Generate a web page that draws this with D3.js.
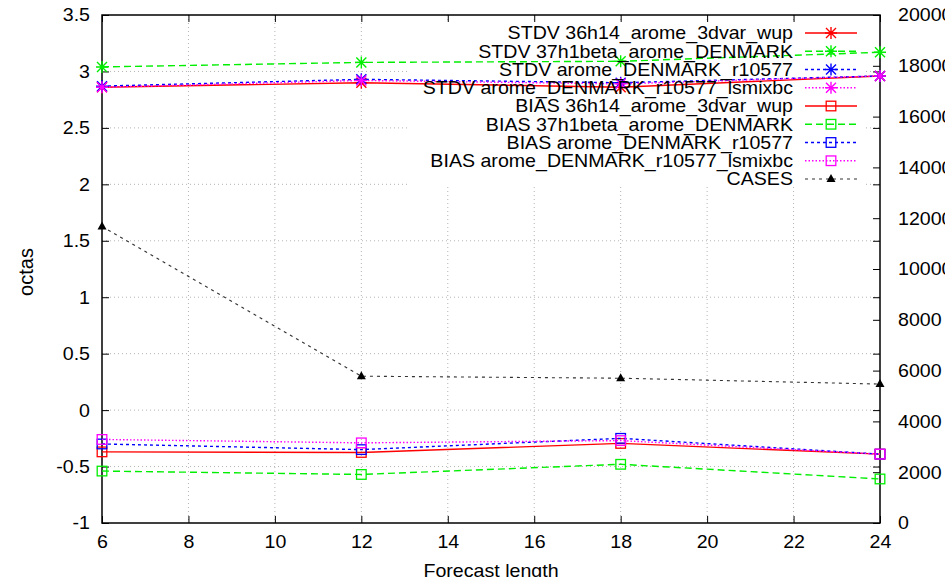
<!DOCTYPE html>
<html>
<head>
<meta charset="utf-8">
<script src="https://cdn.jsdelivr.net/npm/d3@7/dist/d3.min.js"></script>
<style>
  html, body { margin: 0; padding: 0; background: #fff; }
  svg { display: block; }
  text { font-family: "Liberation Sans", Arial, Helvetica, sans-serif; fill: #000; }
</style>
</head>
<body>
<svg id="chart" width="945" height="577"></svg>
<script>
// ---- data ----
const forecastLength = [6, 12, 18, 24];
const stdv36h14   = [2.86, 2.90, 2.86, 2.96];
const stdv37h1    = [3.04, 3.08, 3.09, 3.17];
const stdvR10577  = [2.87, 2.93, 2.90, 2.96];
const stdvLsmixbc = [2.86, 2.92, 2.89, 2.96];
const bias36h14   = [-0.37, -0.375, -0.295, -0.39];
const bias37h1    = [-0.54, -0.57, -0.48, -0.61];
const biasR10577  = [-0.30, -0.35, -0.25, -0.39];
const biasLsmixbc = [-0.26, -0.29, -0.27, -0.39];
const cases       = [11670, 5780, 5700, 5470];

const seriesNames = [
  "STDV 36h14_arome_3dvar_wup",
  "STDV 37h1beta_arome_DENMARK",
  "STDV arome_DENMARK_r10577",
  "STDV arome_DENMARK_r10577_lsmixbc",
  "BIAS 36h14_arome_3dvar_wup",
  "BIAS 37h1beta_arome_DENMARK",
  "BIAS arome_DENMARK_r10577",
  "BIAS arome_DENMARK_r10577_lsmixbc",
  "CASES"
];
const xTicks  = [6, 8, 10, 12, 14, 16, 18, 20, 22, 24];
const yTicks  = [-1, -0.5, 0, 0.5, 1, 1.5, 2, 2.5, 3, 3.5];
const y2Ticks = [0, 2000, 4000, 6000, 8000, 10000, 12000, 14000, 16000, 18000, 20000];
const xLabel = "Forecast length";
const yLabel = "octas";

// ---- styles ----
const seriesValues = [stdv36h14, stdv37h1, stdvR10577, stdvLsmixbc,
                      bias36h14, bias37h1, biasR10577, biasLsmixbc, cases];
const seriesStyle = [
  {color: "#ff0000", dash: null,    marker: "star",   axis: 1},
  {color: "#00ee00", dash: "7,4",   marker: "star",   axis: 1},
  {color: "#0000ff", dash: "3,3",   marker: "star",   axis: 1},
  {color: "#ff00ff", dash: "1.5,2", marker: "star",   axis: 1},
  {color: "#ff0000", dash: null,    marker: "square", axis: 1},
  {color: "#00ee00", dash: "7,4",   marker: "square", axis: 1},
  {color: "#0000ff", dash: "3,3",   marker: "square", axis: 1},
  {color: "#ff00ff", dash: "1.5,2", marker: "square", axis: 1},
  {color: "#333333", dash: "3,4",   marker: "tri",    axis: 2}
];

const FS = 18.5, SX = 1.06;
const L = 102, R = 880, T = 15, B = 523;

const svg = d3.select("#chart");
svg.append("rect").attr("width", 945).attr("height", 577).attr("fill", "#fff");

const x  = d3.scaleLinear().domain([6, 24]).range([L, R]);
const y  = d3.scaleLinear().domain([-1, 3.5]).range([B, T]);
const y2 = d3.scaleLinear().domain([0, 20000]).range([B, T]);

// grid
const grid = svg.append("g").attr("stroke", "#b4b4b4").attr("stroke-width", 1).attr("stroke-dasharray", "1,3");
grid.selectAll("line.vx").data(xTicks.slice(1, -1)).join("line")
  .attr("x1", d => x(d)).attr("x2", d => x(d)).attr("y1", T).attr("y2", B);
grid.selectAll("line.hy").data(yTicks.slice(1, -1)).join("line")
  .attr("x1", L).attr("x2", R).attr("y1", d => y(d)).attr("y2", d => y(d));

// opaque key background
svg.append("rect").attr("x", 410).attr("y", 21).attr("width", 456).attr("height", 165).attr("fill", "#fff");

function stretchTexts(g) {
  g.selectAll("text").each(function () {
    const t = d3.select(this);
    const xv = +t.attr("x") || 0;
    t.attr("x", xv / SX).attr("transform", `scale(${SX},1)`)
     .style("font-size", FS + "px").style("font-family", '"Liberation Sans", Arial, sans-serif');
  });
}
function cleanAxis(g) {
  g.select(".domain").remove();
  g.selectAll(".tick line").attr("stroke", "#000").attr("stroke-width", 1);
}

// axes
const gL = svg.append("g").attr("transform", `translate(${L},0)`)
  .call(d3.axisLeft(y).tickValues(yTicks).tickSize(-7).tickPadding(12).tickFormat(d => String(d)));
cleanAxis(gL); stretchTexts(gL);

const gRm = svg.append("g").attr("transform", `translate(${R},0)`)
  .call(d3.axisRight(y).tickValues(yTicks).tickSize(-7).tickFormat(""));
cleanAxis(gRm);

const gR = svg.append("g").attr("transform", `translate(${R},0)`)
  .call(d3.axisRight(y2).tickValues(y2Ticks).tickSize(-7).tickPadding(18).tickFormat(d => String(d)));
cleanAxis(gR); stretchTexts(gR);

const gB = svg.append("g").attr("transform", `translate(0,${B})`)
  .call(d3.axisBottom(x).tickValues(xTicks).tickSize(-7).tickPadding(12).tickFormat(d => String(d)));
cleanAxis(gB); stretchTexts(gB);

const gT = svg.append("g").attr("transform", `translate(0,${T})`)
  .call(d3.axisTop(x).tickValues(xTicks).tickSize(-7).tickFormat(""));
cleanAxis(gT);

// border
svg.append("rect").attr("x", L).attr("y", T).attr("width", R - L).attr("height", B - T)
  .attr("fill", "none").attr("stroke", "#000").attr("stroke-width", 1.5);

// axis labels
svg.append("text").attr("transform", `translate(33,${(T + B) / 2 + 3}) rotate(-90)`)
  .attr("text-anchor", "middle").style("font-size", "20px").text(yLabel);
svg.append("g").attr("transform", `translate(${(L + R) / 2},${B + 54})`)
  .append("text").attr("transform", `scale(${SX},1)`).attr("text-anchor", "middle")
  .style("font-size", FS + "px").text(xLabel);

// markers
function drawMarker(g, kind, color, cx, cy) {
  if (kind === "star") {
    const s = 5;
    g.append("path").attr("d", `M${cx - s},${cy - s}L${cx + s},${cy + s}M${cx - s},${cy + s}L${cx + s},${cy - s}M${cx - s - 1},${cy}L${cx + s + 1},${cy}M${cx},${cy - s - 1}L${cx},${cy + s + 1}`)
      .attr("stroke", color).attr("stroke-width", 1.4).attr("fill", "none");
  } else if (kind === "square") {
    const s = 4.8;
    g.append("rect").attr("x", cx - s).attr("y", cy - s).attr("width", 2 * s).attr("height", 2 * s)
      .attr("stroke", color).attr("stroke-width", 1.3).attr("fill", "none");
  } else {
    g.append("path").attr("d", `M${cx},${cy - 5}L${cx + 4.5},${cy + 3}L${cx - 4.5},${cy + 3}Z`).attr("fill", "#000");
  }
}

// series lines and points
const plot = svg.append("g");
seriesValues.forEach((vals, i) => {
  const st = seriesStyle[i];
  const ys = st.axis === 2 ? y2 : y;
  const pts = forecastLength.map((f, j) => [f, vals[j]]);
  const line = d3.line().x(d => x(d[0])).y(d => ys(d[1]));
  plot.append("path").datum(pts).attr("d", line).attr("fill", "none")
    .attr("stroke", st.color).attr("stroke-width", st.axis === 2 ? 1.1 : 1.4)
    .attr("stroke-dasharray", st.dash);
  pts.forEach(p => drawMarker(plot, st.marker, st.color, x(p[0]), ys(p[1])));
});

// legend
const legend = svg.append("g");
seriesNames.forEach((name, i) => {
  const st = seriesStyle[i];
  const ry = 33 + i * 18.25;
  legend.append("g").attr("transform", `translate(793,${ry})`)
    .append("text").attr("transform", `scale(${SX},1)`).attr("text-anchor", "end")
    .attr("dy", "0.35em").style("font-size", FS + "px").text(name);
  legend.append("line").attr("x1", 805).attr("x2", 857).attr("y1", ry).attr("y2", ry)
    .attr("stroke", st.color).attr("stroke-width", st.axis === 2 ? 1.1 : 1.4)
    .attr("stroke-dasharray", st.dash);
  drawMarker(legend, st.marker, st.color, 831, ry);
});
</script>
</body>
</html>
